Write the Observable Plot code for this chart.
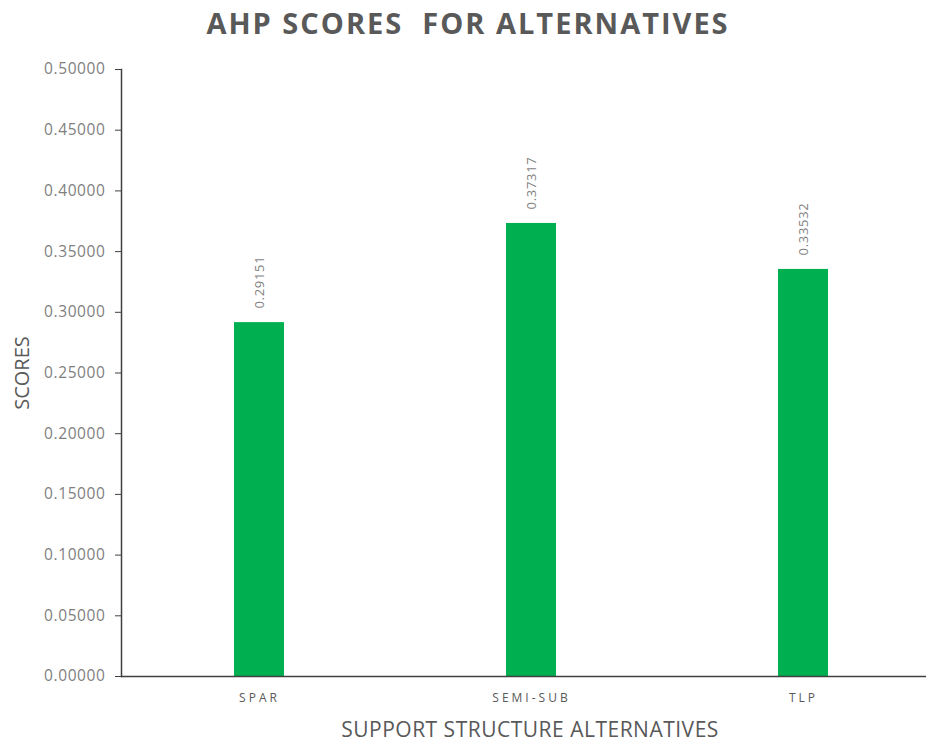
<!DOCTYPE html>
<html>
<head>
<meta charset="utf-8">
<script src="https://cdn.jsdelivr.net/npm/d3@7"></script>
<script src="https://cdn.jsdelivr.net/npm/@observablehq/plot@0.6"></script>
<style>
  html, body { margin: 0; padding: 0; background: #ffffff; }
  #chart { width: 926px; height: 743px; overflow: hidden; }
  g.lbl-y text { letter-spacing: 0.6px; }
  g.lbl-x text { letter-spacing: 3px; }
  g.lbl-val text { letter-spacing: 0.7px; }
  g.lbl-title text { letter-spacing: 2px; }
  g.lbl-xtitle text { letter-spacing: 0.5px; }
</style>
</head>
<body>
<div id="chart"></div>
<script>
const categories = ["SPAR", "SEMI-SUB", "TLP"];
const scores = [0.29151, 0.37317, 0.33532];
const yTicks = [0, 0.05, 0.10, 0.15, 0.20, 0.25, 0.30, 0.35, 0.40, 0.45, 0.50];
const titleText = "AHP SCORES  FOR ALTERNATIVES";
const xLabel = "SUPPORT STRUCTURE ALTERNATIVES";
const yLabel = "SCORES";

const data = categories.map((c, i) => ({category: c, score: scores[i]}));

const font = "'Open Sans', 'Liberation Sans', sans-serif";

const chart = Plot.plot({
  width: 926,
  height: 743,
  marginTop: 69,
  marginBottom: 67,
  marginLeft: 121,
  marginRight: 0,
  style: {fontFamily: font, background: "#ffffff", overflow: "visible"},
  x: {domain: categories, range: [122, 939], padding: 0},
  y: {domain: [0, 0.5], range: [676, 69]},
  marks: [
    Plot.barY(data, {x: "category", y: "score", fill: "#00b050", insetLeft: 111, insetRight: 111}),
    Plot.frame({anchor: "left", stroke: "#404040", strokeWidth: 1.5}),
    Plot.ruleY([0], {stroke: "#404040", strokeWidth: 1.5}),
    Plot.axisY(yTicks, {
      tickFormat: d3.format(".5f"),
      tickSize: 6,
      tickPadding: 10,
      stroke: "#404040",
      fill: "#7f7f7f",
      fontSize: 15.5,
      label: null
    }),
    Plot.axisX({
      tickSize: 0,
      tickPadding: 17,
      fill: "#595959",
      fontSize: 12,
      label: null
    }),
    Plot.text(data, {
      x: "category",
      y: "score",
      text: d => d3.format(".5f")(d.score),
      rotate: -90,
      textAnchor: "start",
      lineAnchor: "middle",
      dy: -14,
      fill: "#7f7f7f",
      fontSize: 13
    }),
    Plot.text([titleText], {
      frameAnchor: "top",
      dx: -56,
      dy: -56,
      lineAnchor: "top",
      fontSize: 29,
      fontWeight: "bold",
      fill: "#595959",
      text: d => d
    }),
    Plot.text([xLabel], {
      frameAnchor: "bottom",
      dx: 6,
      dy: 54,
      lineAnchor: "middle",
      fontSize: 21,
      fill: "#595959",
      text: d => d
    }),
    Plot.text([yLabel], {
      frameAnchor: "left",
      dx: -99,
      rotate: -90,
      textAnchor: "middle",
      lineAnchor: "middle",
      fontSize: 20,
      fill: "#595959",
      text: d => d
    })
  ]
});

const svg = d3.select(chart);
svg.selectAll('g[aria-label="y-axis tick label"]').classed("lbl-y", true);
svg.selectAll('g[aria-label="x-axis tick label"]').classed("lbl-x", true);
const textGroups = svg.selectAll('g[aria-label="text"]').nodes();
const textClasses = ["lbl-val", "lbl-title", "lbl-xtitle", "lbl-ytitle"];
textGroups.forEach((g, i) => d3.select(g).classed(textClasses[i], true));

document.getElementById("chart").appendChild(chart);
</script>
</body>
</html>
